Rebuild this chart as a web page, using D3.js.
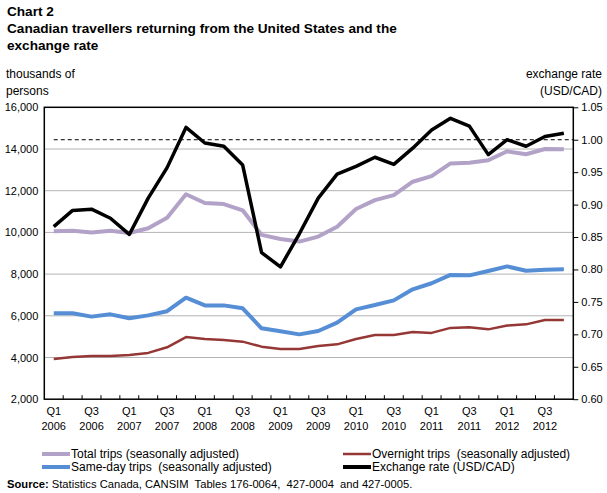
<!DOCTYPE html>
<html>
<head>
<meta charset="utf-8">
<script src="https://cdn.jsdelivr.net/npm/d3@7"></script>
<style>
  body { margin: 0; background: #fff; }
  svg { display: block; font-family: "Liberation Sans", Arial, sans-serif; }
  text { white-space: pre; }
</style>
</head>
<body>
<svg id="chart" width="607" height="493"></svg>
<script>
const quarters = [];
const years = [2006, 2007, 2008, 2009, 2010, 2011, 2012];
years.forEach(y => ["Q1","Q2","Q3","Q4"].forEach(q => quarters.push(q + " " + y)));

const totalTrips = [10050, 10080, 10000, 10080, 9970, 10200, 10700, 11830, 11410, 11360,
  11060, 9880, 9680, 9560, 9800, 10270, 11120, 11550, 11790, 12430,
  12700, 13310, 13340, 13460, 13890, 13750, 14000, 13990];
const sameDay = [6120, 6120, 5960, 6070, 5880, 6020, 6220, 6870, 6500, 6500,
  6360, 5400, 5260, 5110, 5270, 5670, 6310, 6520, 6740, 7270,
  7560, 7960, 7940, 8150, 8370, 8160, 8210, 8230];
const overnight = [3930, 4020, 4070, 4070, 4120, 4220, 4490, 4980, 4890, 4840,
  4760, 4520, 4410, 4410, 4550, 4630, 4890, 5080, 5080, 5220,
  5180, 5420, 5450, 5350, 5530, 5590, 5800, 5800];
const exchangeRate = [0.866, 0.891, 0.893, 0.879, 0.854, 0.910, 0.957, 1.019, 0.995, 0.990,
  0.961, 0.826, 0.804, 0.855, 0.910, 0.947, 0.959, 0.973, 0.962, 0.987,
  1.015, 1.033, 1.021, 0.977, 1.000, 0.990, 1.005, 1.010];

const leftTicks = [2000, 4000, 6000, 8000, 10000, 12000, 14000, 16000];
const rightTicks = [0.60, 0.65, 0.70, 0.75, 0.80, 0.85, 0.90, 0.95, 1.00, 1.05];
const parityLevel = 1.00;

const seriesNames = ["Total trips (seasonally adjusted)", "Overnight trips  (seasonally adjusted)",
  "Same-day trips  (seasonally adjusted)", "Exchange rate (USD/CAD)"];

const svg = d3.select("#chart");
const L = 44.3, R = 573.3, T = 107.3, B = 399.2;

const x = d3.scaleBand().domain(quarters).range([L, R]).padding(0);
const cx = q => x(q) + x.bandwidth() / 2;
const yL = d3.scaleLinear().domain([2000, 16000]).range([B, T]);
const yR = d3.scaleLinear().domain([0.60, 1.05]).range([B, T]);

// Titles
const title = svg.append("g").attr("font-weight", "bold").attr("font-size", 13.6).attr("fill", "#000");
title.append("text").attr("x", 7).attr("y", 16).text("Chart 2");
title.append("text").attr("x", 7).attr("y", 33).text("Canadian travellers returning from the United States and the");
title.append("text").attr("x", 7).attr("y", 50).text("exchange rate");

const lab = svg.append("g").attr("font-size", 12).attr("fill", "#000");
lab.append("text").attr("x", 6).attr("y", 78).text("thousands of");
lab.append("text").attr("x", 6).attr("y", 95).text("persons");
lab.append("text").attr("x", 602).attr("y", 78).attr("text-anchor", "end").text("exchange rate");
lab.append("text").attr("x", 602).attr("y", 95).attr("text-anchor", "end").text("(USD/CAD)");

// Gridlines
svg.append("g").selectAll("line").data(leftTicks.filter(v => v > 2000 && v < 16000)).join("line")
  .attr("x1", L).attr("x2", R).attr("y1", d => yL(d)).attr("y2", d => yL(d))
  .attr("stroke", "#b3b3b3").attr("stroke-width", 1);

// Left axis labels
const axL = svg.append("g").attr("transform", `translate(${L},0)`)
  .call(d3.axisLeft(yL).tickValues(leftTicks).tickSize(0).tickPadding(6).tickFormat(d3.format(",")));
axL.select(".domain").remove();
axL.selectAll("text").attr("font-size", 11).attr("font-family", "Liberation Sans, Arial, sans-serif").attr("fill", "#000");

// Right axis
const axR = svg.append("g").attr("transform", `translate(${R},0)`)
  .call(d3.axisRight(yR).tickValues(rightTicks).tickSize(5).tickPadding(3).tickFormat(d3.format(".2f")));
axR.select(".domain").remove();
axR.selectAll("line").attr("stroke", "#000");
axR.selectAll("text").attr("font-size", 11).attr("font-family", "Liberation Sans, Arial, sans-serif").attr("fill", "#000");

// Bottom ticks (inward, at category boundaries)
svg.append("g").selectAll("line").data(quarters.slice(1)).join("line")
  .attr("x1", d => x(d)).attr("x2", d => x(d)).attr("y1", B).attr("y2", B - 4)
  .attr("stroke", "#000");

// x labels
const xl = svg.append("g").attr("font-size", 11).attr("fill", "#000").attr("text-anchor", "middle");
quarters.forEach((q, i) => {
  if (i % 2 === 0) {
    const [qq, yy] = q.split(" ");
    xl.append("text").attr("x", cx(q)).attr("y", 415).text(qq);
    xl.append("text").attr("x", cx(q)).attr("y", 430).text(yy);
  }
});

// Parity dashed line
svg.append("line").attr("x1", cx(quarters[0])).attr("x2", R)
  .attr("y1", yR(parityLevel)).attr("y2", yR(parityLevel))
  .attr("stroke", "#000").attr("stroke-width", 1).attr("stroke-dasharray", "4,3");

// Lines
const lineL = vals => d3.line().x((d, i) => cx(quarters[i])).y(d => yL(d))(vals);
const lineR = vals => d3.line().x((d, i) => cx(quarters[i])).y(d => yR(d))(vals);

svg.append("path").attr("d", lineL(totalTrips)).attr("fill", "none").attr("stroke", "#b3a2c7").attr("stroke-width", 4).attr("stroke-linejoin", "round");
svg.append("path").attr("d", lineL(sameDay)).attr("fill", "none").attr("stroke", "#558ed5").attr("stroke-width", 4).attr("stroke-linejoin", "round");
svg.append("path").attr("d", lineL(overnight)).attr("fill", "none").attr("stroke", "#953735").attr("stroke-width", 2.5).attr("stroke-linejoin", "round");
svg.append("path").attr("d", lineR(exchangeRate)).attr("fill", "none").attr("stroke", "#000").attr("stroke-width", 3.5).attr("stroke-linejoin", "round");

// Plot border
svg.append("rect").attr("x", L).attr("y", T).attr("width", R - L).attr("height", B - T)
  .attr("fill", "none").attr("stroke", "#000").attr("stroke-width", 1.5);

// Legend
const legendItems = [
  { name: seriesNames[0], color: "#b3a2c7", w: 4, x: 42, y: 458 },
  { name: seriesNames[1], color: "#953735", w: 2.5, x: 343, y: 458 },
  { name: seriesNames[2], color: "#558ed5", w: 4, x: 42, y: 471 },
  { name: seriesNames[3], color: "#000", w: 4, x: 343, y: 471 }
];
const lg = svg.append("g");
legendItems.forEach(d => {
  lg.append("line").attr("x1", d.x).attr("x2", d.x + 28).attr("y1", d.y - 4).attr("y2", d.y - 4)
    .attr("stroke", d.color).attr("stroke-width", d.w);
  lg.append("text").attr("x", d.x + 29).attr("y", d.y).attr("font-size", 12).attr("fill", "#000").text(d.name);
});

// Source
const src = svg.append("text").attr("x", 7).attr("y", 488).attr("font-size", 11.2).attr("fill", "#000");
src.append("tspan").attr("font-weight", "bold").text("Source:");
src.append("tspan").text(" Statistics Canada, CANSIM  Tables 176-0064,  427-0004  and 427-0005.");
</script>
</body>
</html>
